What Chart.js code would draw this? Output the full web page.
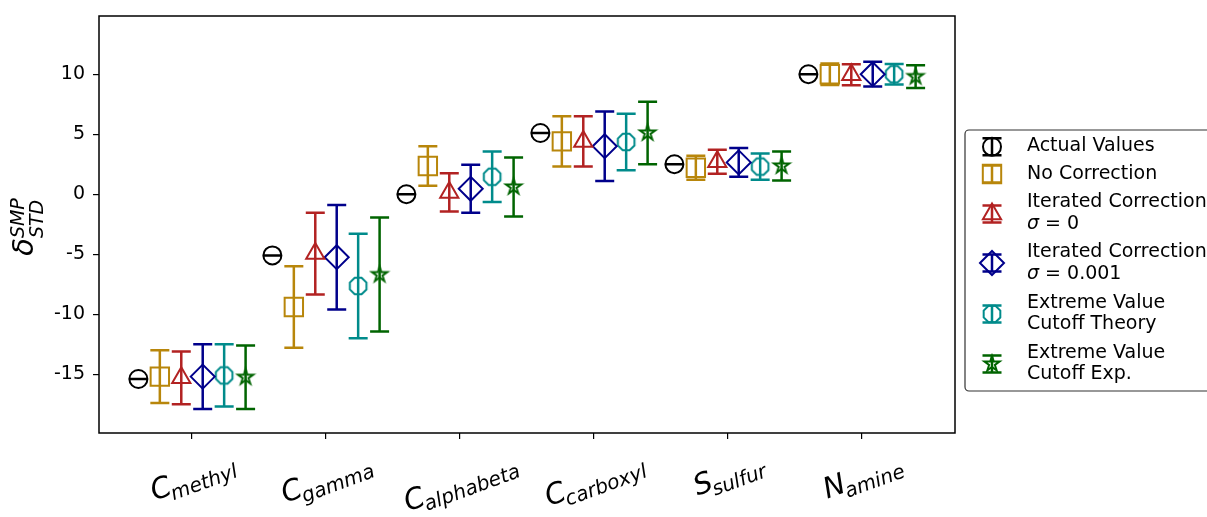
<!DOCTYPE html>
<html>
<head>
<meta charset="utf-8">
<script src="https://cdn.jsdelivr.net/npm/chart.js@4.4.0/dist/chart.umd.min.js"></script>
<style>
  html, body { margin: 0; padding: 0; background: #fff; }
  canvas { display: block; }
</style>
</head>
<body>
<canvas id="chart" width="1207" height="517"></canvas>
<script>
// site labels: big atom letter + subscript
var atoms = ['C', 'C', 'C', 'C', 'S', 'N'];
var categories = ['methyl', 'gamma', 'alphabeta', 'carboxyl', 'sulfur', 'amine'];
var yTicks = [-15, -10, -5, 0, 5, 10];

// chemical shift differences and their error bars
var actualValues   = [-15.4, -5.1,  0.0,  5.1, 2.5, 10.0];
var actualErr      = [0, 0, 0, 0, 0, 0];
var noCorrection   = [-15.2, -9.4,  2.35, 4.4, 2.2, 10.0];
var noCorrErr      = [2.2,  3.4,  1.65, 2.1,  1.0, 0.9];
var iterSigma0     = [-15.3, -4.95, 0.15, 4.4, 2.7, 9.95];
var iterSigma0Err  = [2.2,  3.4,  1.6,  2.1,  1.0, 0.88];
var iterSigma001   = [-15.2, -5.25, 0.45, 4.0, 2.65, 10.0];
var iterSigma001Err= [2.7,  4.35, 2.0,  2.9,  1.2, 1.03];
var evTheory       = [-15.1, -7.65, 1.45, 4.35, 2.3, 10.0];
var evTheoryErr    = [2.6,  4.35, 2.1,  2.35, 1.1, 0.85];
var evExp          = [-15.25, -6.7, 0.6,  5.1, 2.35, 9.8];
var evExpErr       = [2.65, 4.75, 2.45, 2.6,  1.2, 0.95];

var offsets = [-0.4, -0.24, -0.08, 0.08, 0.24, 0.4];

function shapeCanvas(kind, color, r, lw) {
    var c = document.createElement('canvas');
    var s = Math.ceil(2 * r + lw * 2 + 2);
    c.width = s; c.height = s;
    var g = c.getContext('2d');
    g.strokeStyle = color;
    g.lineWidth = lw;
    g.lineJoin = 'miter';
    g.beginPath();
    var cx = s / 2, cy = s / 2, k, a;
    if (kind === 'octagon') {
        for (k = 0; k < 8; k++) {
            a = Math.PI / 8 + k * Math.PI / 4;
            g.lineTo(cx + r * Math.cos(a), cy + r * Math.sin(a));
        }
    } else {
        for (k = 0; k < 10; k++) {
            a = -Math.PI / 2 + k * Math.PI / 5;
            var rr = (k % 2 === 0) ? r : r * 0.382;
            g.lineTo(cx + rr * Math.cos(a), cy + rr * Math.sin(a));
        }
    }
    g.closePath();
    g.stroke();
    return c;
}

var series = [
    { label: ['Actual Values'], values: actualValues, errors: actualErr, color: '#000000', style: 'circle', radius: 9 },
    { label: ['No Correction'], values: noCorrection, errors: noCorrErr, color: '#b8860b', style: 'rect', radius: 13 },
    { label: ['Iterated Correction', 'σ = 0'], values: iterSigma0, errors: iterSigma0Err, color: '#b22222', style: 'triangle', radius: 10.5 },
    { label: ['Iterated Correction', 'σ = 0.001'], values: iterSigma001, errors: iterSigma001Err, color: '#00008b', style: 'rectRot', radius: 12 },
    { label: ['Extreme Value', 'Cutoff Theory'], values: evTheory, errors: evTheoryErr, color: '#008b8b', style: shapeCanvas('octagon', '#008b8b', 9, 2), radius: 9 },
    { label: ['Extreme Value', 'Cutoff Exp.'], values: evExp, errors: evExpErr, color: '#006400', style: shapeCanvas('star', '#006400', 8, 2), radius: 8 }
];

var datasets = series.map(function(s, i) {
    return {
        label: s.label.join(' '),
        data: s.values.map(function(v, j) { return { x: j + offsets[i], y: v }; }),
        errors: s.errors,
        pointStyle: s.style,
        pointRadius: s.radius,
        pointHoverRadius: s.radius,
        pointBorderWidth: 2,
        pointBorderColor: s.color,
        pointBackgroundColor: 'rgba(0,0,0,0)',
        borderColor: s.color,
        showLine: false
    };
});

var CAP = 9.5;

function drawErrorBar(ctx, x, yTop, yBot, color) {
    ctx.strokeStyle = color;
    ctx.lineWidth = 2.5;
    ctx.beginPath();
    ctx.moveTo(x, yTop); ctx.lineTo(x, yBot);
    ctx.moveTo(x - CAP, yTop); ctx.lineTo(x + CAP, yTop);
    ctx.moveTo(x - CAP, yBot); ctx.lineTo(x + CAP, yBot);
    ctx.stroke();
}

var errorBars = {
    id: 'errorBars',
    beforeDatasetsDraw: function(chart) {
        var ctx = chart.ctx, ys = chart.scales.y;
        ctx.save();
        chart.data.datasets.forEach(function(ds, i) {
            var meta = chart.getDatasetMeta(i);
            meta.data.forEach(function(pt, j) {
                var v = ds.data[j].y, e = ds.errors[j];
                drawErrorBar(ctx, pt.x, ys.getPixelForValue(v + e), ys.getPixelForValue(v - e), ds.borderColor);
            });
        });
        ctx.restore();
    }
};

var decorations = {
    id: 'decorations',
    afterDraw: function(chart) {
        var ctx = chart.ctx, a = chart.chartArea, xs = chart.scales.x;
        ctx.save();

        // frame
        ctx.strokeStyle = '#000';
        ctx.lineWidth = 1.5;
        ctx.strokeRect(a.left, a.top, a.right - a.left, a.bottom - a.top);

        // x tick labels, rotated
        var ang = 20 * Math.PI / 180;
        var bigFont = 'italic 29px "DejaVu Sans"', subFont = 'italic 20px "DejaVu Sans"';
        ctx.fillStyle = '#000';
        ctx.textBaseline = 'alphabetic';
        categories.forEach(function(sub, i) {
            var px = xs.getPixelForValue(i);
            ctx.font = bigFont;
            var wBig = ctx.measureText(atoms[i]).width - 2;
            ctx.font = subFont;
            var wSub = ctx.measureText(sub).width;
            var w = wBig + wSub, h = 30;
            var bh = w * Math.sin(ang) + h * Math.cos(ang);
            ctx.save();
            ctx.translate(px + 2, a.bottom + 19 + bh / 2);
            ctx.rotate(-ang);
            ctx.textAlign = 'left';
            ctx.font = bigFont;
            ctx.fillText(atoms[i], -w / 2, 5);
            ctx.font = subFont;
            ctx.fillText(sub, -w / 2 + wBig, 11);
            ctx.restore();
        });

        // y axis title
        ctx.save();
        ctx.translate(33, 227);
        ctx.rotate(-Math.PI / 2);
        ctx.textAlign = 'left';
        ctx.font = 'italic 29px "DejaVu Sans"';
        var wd = ctx.measureText('δ').width;
        ctx.font = 'italic 19px "DejaVu Sans"';
        var ws = Math.max(ctx.measureText('SMP').width, ctx.measureText('STD').width);
        var x0 = -(wd + ws) / 2;
        ctx.font = 'italic 29px "DejaVu Sans"';
        ctx.fillText('δ', x0, 0);
        ctx.font = 'italic 19px "DejaVu Sans"';
        ctx.fillText('SMP', x0 + wd, -9);
        ctx.fillText('STD', x0 + wd, 10);
        ctx.restore();

        // legend
        var lx = 965, ly = 130, lw = 260, lh = 261;
        ctx.fillStyle = 'rgba(255,255,255,0.8)';
        ctx.strokeStyle = '#333';
        ctx.lineWidth = 1.2;
        ctx.beginPath();
        ctx.roundRect(lx, ly, lw, lh, 4);
        ctx.fill();
        ctx.stroke();

        var rows = [[145.7], [174.3], [202.3, 224], [252.3, 274], [303.3, 324.3], [353.3, 374.3]];
        var glyphY = [146.7, 174, 214, 263, 314, 364];
        series.forEach(function(s, i) {
            var gx = 992, gy = glyphY[i];
            drawErrorBar(ctx, gx, gy - 8.5, gy + 8.5, s.color);
            ctx.strokeStyle = s.color;
            ctx.fillStyle = 'rgba(0,0,0,0)';
            ctx.lineWidth = 2;
            Chart.helpers.drawPoint(ctx, { pointStyle: s.style, radius: s.radius, rotation: 0, borderWidth: 2 }, gx, gy);
            ctx.fillStyle = '#000';
            ctx.textBaseline = 'middle';
            s.label.forEach(function(line, k) {
                var ty = rows[i][k];
                if (line.charAt(0) === 'σ') {
                    ctx.font = 'italic 19px "DejaVu Sans"';
                    ctx.fillText('σ', 1027, ty);
                    var wsig = ctx.measureText('σ').width;
                    ctx.font = '19px "DejaVu Sans"';
                    ctx.fillText(line.slice(1), 1027 + wsig, ty);
                } else {
                    ctx.font = '19px "DejaVu Sans"';
                    ctx.fillText(line, 1027, ty);
                }
            });
        });
        ctx.restore();
    }
};

new Chart(document.getElementById('chart'), {
    type: 'scatter',
    data: { datasets: datasets },
    plugins: [errorBars, decorations],
    options: {
        responsive: false,
        animation: false,
        devicePixelRatio: 1,
        layout: { padding: { left: 0, top: 16, right: 252, bottom: 0 } },
        plugins: { legend: { display: false }, tooltip: { enabled: false } },
        scales: {
            x: {
                type: 'linear',
                min: -0.694,
                max: 5.694,
                afterBuildTicks: function(scale) {
                    scale.ticks = categories.map(function(c, i) { return { value: i }; });
                },
                afterFit: function(scale) {
                    scale.height = 84;
                    scale.paddingLeft = 0; scale.paddingRight = 0;
                },
                ticks: { display: false },
                grid: { display: true, drawOnChartArea: false, drawTicks: true, tickLength: 6, color: '#000', lineWidth: 1.2 },
                border: { display: false }
            },
            y: {
                type: 'linear',
                min: -19.9,
                max: 14.85,
                afterBuildTicks: function(scale) {
                    scale.ticks = yTicks.map(function(v) { return { value: v }; });
                },
                afterFit: function(scale) {
                    scale.width = 99;
                    scale.paddingTop = 0; scale.paddingBottom = 0;
                },
                ticks: {
                    color: '#000',
                    padding: 8,
                    font: { family: 'DejaVu Sans', size: 19 },
                    callback: function(v) { return String(v); }
                },
                grid: { display: true, drawOnChartArea: false, drawTicks: true, tickLength: 6, color: '#000', lineWidth: 1.2 },
                border: { display: false }
            }
        }
    }
});
</script>
</body>
</html>
